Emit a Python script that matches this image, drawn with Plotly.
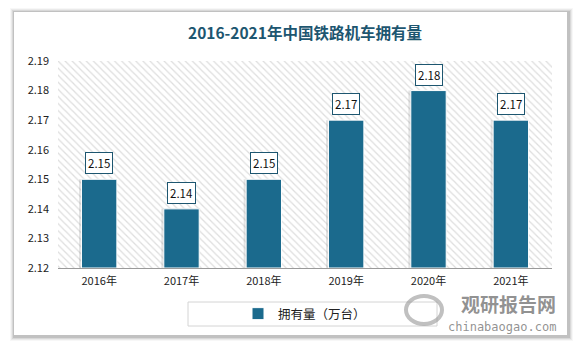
import plotly.graph_objects as go

# Locomotive fleet size, in 10,000 units
years = ["2016年", "2017年", "2018年", "2019年", "2020年", "2021年"]
counts = [2.15, 2.14, 2.15, 2.17, 2.18, 2.17]
y_ticks = [2.12, 2.13, 2.14, 2.15, 2.16, 2.17, 2.18, 2.19]

W, H = 583, 349
L, R, T, B = 58, 552, 61, 268  # plot area in pixels

BAR = "#1b6a8d"
TEAL = "#1d5670"
FONT = "Noto Sans CJK SC, sans-serif"


def px(x):
    return (x - L) / (R - L)


def py(y):
    return (B - y) / (B - T)


fig = go.Figure()

# hatched panel behind the bars (base axes, unit range)
fig.add_trace(go.Scatter(
    x=[0, 1, 1, 0, 0], y=[0, 0, 1, 1, 0], xaxis="x", yaxis="y",
    mode="lines", line=dict(width=0), fill="toself",
    fillcolor="white",
    fillpattern=dict(shape="\\", size=5, solidity=0.25,
                     fgcolor="#bdbdbd", bgcolor="white"),
    hoverinfo="skip", showlegend=False,
))

# soft drop shadow to the left of each bar
fig.add_trace(go.Bar(
    x=years, y=[v - 2.12 for v in counts], base=2.12,
    xaxis="x2", yaxis="y2", width=0.43, offset=-0.215 - 0.03,
    marker=dict(color="rgba(120,120,120,0.2)", line=dict(width=0)),
    hoverinfo="skip", showlegend=False,
))

fig.add_trace(go.Bar(
    x=years, y=[v - 2.12 for v in counts], base=2.12,
    xaxis="x2", yaxis="y2", width=0.43,
    marker=dict(color=BAR, line=dict(color="white", width=1)),
    name="拥有量（万台）", showlegend=True,
))

annotations = []
for yr, v in zip(years, counts):
    annotations.append(dict(
        x=yr, y=v, xref="x2", yref="y2", text=f"{v:.2f}",
        showarrow=False, yanchor="bottom", yshift=5,
        font=dict(family=FONT, size=11.5, color="#111111"),
        bgcolor="white", bordercolor=TEAL, borderwidth=1, borderpad=2,
    ))

annotations += [
    dict(x=0.5, y=py(32), xref="paper", yref="paper",
         text="<b>2016-2021年中国铁路机车拥有量</b>", showarrow=False,
         font=dict(family=FONT, size=15.5, color=TEAL),
         xanchor="center", yanchor="middle"),
    dict(x=px(558), y=py(303.5), xref="paper", yref="paper",
         text="<b>观研报告网</b>", showarrow=False,
         font=dict(family=FONT, size=19, color="rgba(110,110,110,0.75)"),
         xanchor="right", yanchor="middle"),
    dict(x=px(558), y=py(327), xref="paper", yref="paper",
         text="chinabaogao.com", showarrow=False,
         font=dict(family="DejaVu Sans Mono, monospace", size=12,
                   color="rgba(110,110,110,0.75)"),
         xanchor="right", yanchor="middle"),
]

shapes = []
# card shadow, layered for a soft edge
for i, a in enumerate([0.05, 0.08, 0.12, 0.18]):
    d = 4 - i
    shapes.append(dict(type="rect", xref="paper", yref="paper",
                       x0=px(14 - d), x1=px(567 + d + 2),
                       y0=py(335 + d + 2), y1=py(12 - d),
                       line=dict(width=0), fillcolor=f"rgba(90,90,90,{a})",
                       layer="below"))
shapes.append(dict(type="rect", xref="paper", yref="paper",
                   x0=px(14), x1=px(567), y0=py(335), y1=py(12),
                   line=dict(width=0), fillcolor="white", layer="below"))
# legend frame
shapes.append(dict(type="rect", xref="paper", yref="paper",
                   x0=px(188), x1=px(437), y0=py(326), y1=py(302),
                   line=dict(color="#d4d4d4", width=1), fillcolor="rgba(0,0,0,0)"))
# watermark logo ring
shapes.append(dict(type="circle", xref="paper", yref="paper",
                   x0=px(406), x1=px(442), y0=py(324), y1=py(296),
                   line=dict(color="rgba(150,150,150,0.6)", width=4),
                   fillcolor="rgba(0,0,0,0)"))

fig.update_layout(
    width=W, height=H,
    margin=dict(l=L, r=W - R, t=T, b=H - B),
    paper_bgcolor="white", plot_bgcolor="rgba(0,0,0,0)",
    barmode="overlay",
    showlegend=True,
    legend=dict(orientation="h", x=px(238), xanchor="left",
                y=py(314), yanchor="middle",
                font=dict(family=FONT, size=12.5, color="#222222"),
                bgcolor="rgba(0,0,0,0)", borderwidth=0,
                itemwidth=30),
    xaxis=dict(range=[0, 1], visible=False, fixedrange=True),
    yaxis=dict(range=[0, 1], visible=False, fixedrange=True),
    xaxis2=dict(overlaying="x", side="bottom", type="category",
                showgrid=False, showline=True, linecolor="#9a9a9a",
                linewidth=1, ticks="", ticklen=0, ticklabelstandoff=3,
                tickfont=dict(family=FONT, size=11, color="#222222")),
    yaxis2=dict(overlaying="y", side="left", range=[2.12, 2.19],
                tickvals=y_ticks, ticktext=[f"{v:.2f}" for v in y_ticks],
                showgrid=False, showline=False, zeroline=False,
                ticks="", ticklabelstandoff=8,
                tickfont=dict(family=FONT, size=11, color="#222222")),
    annotations=annotations,
    shapes=shapes,
)

fig.write_html("out.html")
